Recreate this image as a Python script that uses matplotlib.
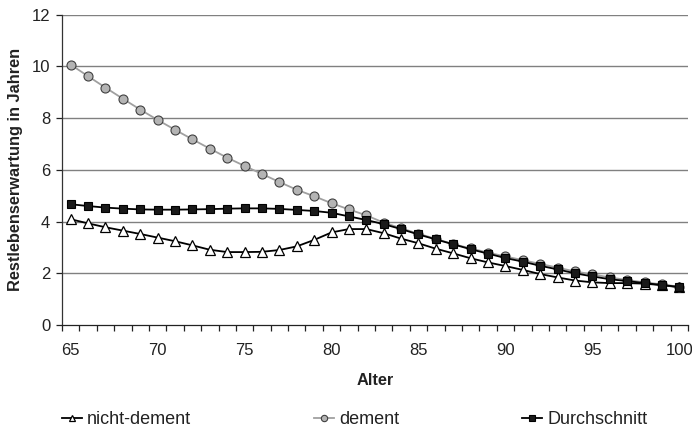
import matplotlib
matplotlib.use("Agg")
import matplotlib.pyplot as plt
from matplotlib.ticker import FixedLocator

ages = list(range(65, 101))
nicht_dement = [4.09, 3.93, 3.78, 3.65, 3.52, 3.38, 3.24, 3.08, 2.91, 2.82, 2.82, 2.83,
                2.90, 3.04, 3.29, 3.58, 3.71, 3.71, 3.55, 3.34, 3.16, 2.95, 2.77, 2.58,
                2.42, 2.28, 2.13, 1.97, 1.84, 1.72, 1.65, 1.62, 1.62, 1.60, 1.54, 1.46]
dement = [10.07, 9.62, 9.18, 8.75, 8.33, 7.93, 7.55, 7.18, 6.82, 6.47, 6.15, 5.84,
          5.53, 5.23, 4.98, 4.71, 4.47, 4.24, 3.96, 3.74, 3.53, 3.33, 3.13, 2.96,
          2.80, 2.65, 2.51, 2.36, 2.22, 2.07, 1.96, 1.84, 1.74, 1.65, 1.57, 1.48]
durchschnitt = [4.67, 4.60, 4.54, 4.50, 4.47, 4.46, 4.46, 4.47, 4.48, 4.50, 4.51, 4.51,
                4.49, 4.45, 4.41, 4.34, 4.20, 4.06, 3.90, 3.71, 3.50, 3.31, 3.12, 2.93,
                2.76, 2.59, 2.45, 2.29, 2.15, 2.00, 1.88, 1.77, 1.70, 1.62, 1.55, 1.47]
xtick_labels = [65, 70, 75, 80, 85, 90, 95, 100]
yticks = [0, 2, 4, 6, 8, 10, 12]

plt.rcParams['font.family'] = ['Liberation Sans', 'DejaVu Sans']

fig = plt.figure(figsize=(6.92, 4.33), dpi=100)
ax = fig.add_axes([62/692, 1-325/433, (688-62)/692, (325-14.7)/433])

ax.plot(ages, nicht_dement, color='black', lw=1.3, marker='^', ms=6.5,
        mfc='white', mec='black', mew=0.9, label='nicht-dement', zorder=3)
ax.plot(ages, dement, color='#a0a0a0', lw=1.3, marker='o', ms=6.5,
        mfc='#b4b4b4', mec='#404040', mew=0.8, label='dement', zorder=4)
ax.plot(ages, durchschnitt, color='black', lw=1.3, marker='s', ms=6.3,
        mfc='#1a1a1a', mec='black', mew=0.8, label='Durchschnitt', zorder=5)

ax.set_xlim(ages[0] - 0.5, ages[-1] + 0.5)
ax.set_ylim(0, 12)
ax.set_yticks(yticks)
ax.set_xticks(xtick_labels)
ax.set_xticklabels([str(v) for v in xtick_labels])
ax.xaxis.set_minor_locator(FixedLocator([a - 0.5 for a in ages] + [ages[-1] + 0.5]))
ax.tick_params(axis='x', which='major', length=0, pad=13, labelsize=12, colors='#222222')
ax.tick_params(axis='x', which='minor', length=4.5, direction='out', width=0.9, color='#222222')
ax.tick_params(axis='y', length=4.5, direction='out', width=0.9, pad=4, labelsize=12, colors='#222222')

for y in yticks[1:]:
    ax.axhline(y, color='#808080', lw=1.0, zorder=1)

for s in ['top', 'right']:
    ax.spines[s].set_visible(False)
ax.spines['left'].set_color('#333333')
ax.spines['bottom'].set_color('#222222')
ax.spines['left'].set_linewidth(0.9)
ax.spines['bottom'].set_linewidth(0.9)

ax.set_xlabel('Alter', fontsize=11.8, fontweight='bold', labelpad=11, color='#222222')
ax.set_ylabel('Restlebenserwartung in Jahren', fontsize=11.8, fontweight='bold', labelpad=6, color='#222222')

leg = fig.legend(loc='center left', bbox_to_anchor=(62/692, 1-420/433), ncol=3,
                 frameon=False, fontsize=13, handlelength=1.1, handletextpad=0.3,
                 columnspacing=6.8, borderpad=0, borderaxespad=0, markerscale=0.7)
for t in leg.get_texts():
    t.set_color('#222222')

fig.savefig('out.png', dpi=100)
